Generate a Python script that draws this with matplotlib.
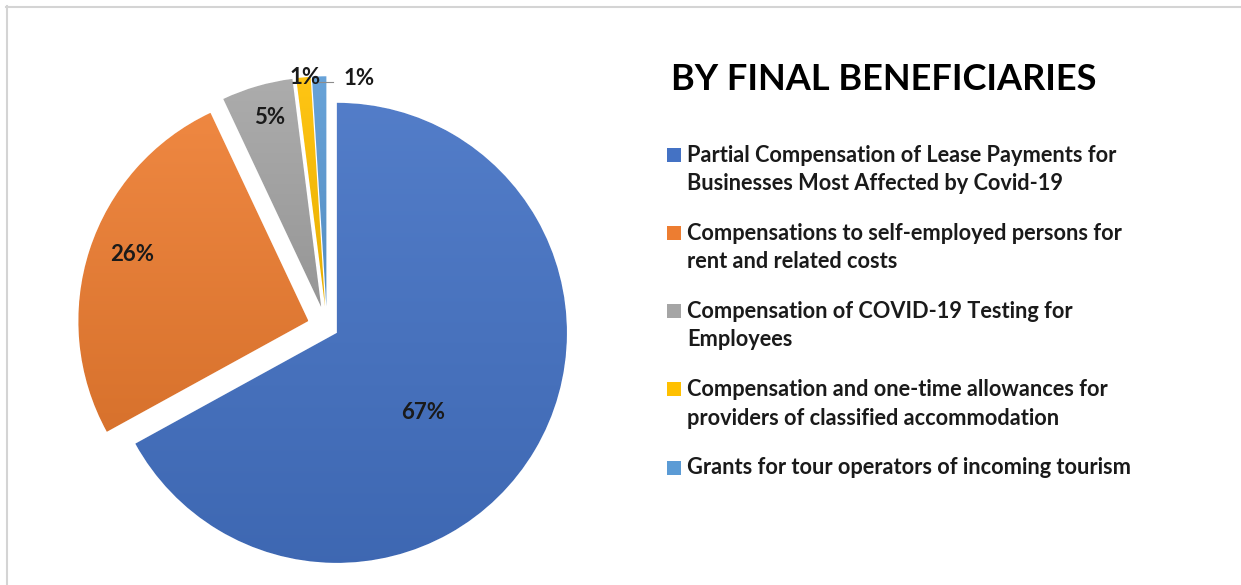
import numpy as np
import matplotlib
matplotlib.use('Agg')
import matplotlib.pyplot as plt
from matplotlib.colors import to_rgb
from matplotlib.lines import Line2D
from matplotlib.patches import Rectangle

plt.rcParams['font.family'] = ['Lato', 'DejaVu Sans']

title = 'BY FINAL BENEFICIARIES'
categories = [
    'Partial Compensation of Lease Payments for\nBusinesses Most Affected by Covid-19',
    'Compensations to self-employed persons for\nrent and related costs',
    'Compensation of COVID-19 Testing for\nEmployees',
    'Compensation and one-time allowances for\nproviders of classified accommodation',
    'Grants for tour operators of incoming tourism',
]
shares = [67, 26, 5, 1, 1]
colors = ['#4472C4', '#ED7D31', '#A5A5A5', '#FFC000', '#5B9BD5']
explode = [0.05, 0.085, 0.09, 0.09, 0.09]

# where each percentage sits, relative to its own wedge
pct_dist = [0.51, 0.82, 0.855, 1.0, 1.0]
pct_turn = [-12, -2.5, -1, -0.3, -10]

W, H = 1241, 585
fig = plt.figure(figsize=(W / 100, H / 100), dpi=100)
fig.patch.set_facecolor('white')

# pie axes: centre at (327, 327) px, radius 1 -> 230 px
L = 1.45
half = 230 * L
cx, cy = 327, 327
ax = fig.add_axes([(cx - half) / W, (H - cy - half) / H, 2 * half / W, 2 * half / H])
ax.axis('off')

wedges, _ = ax.pie(shares, colors=colors, explode=explode, startangle=90,
                   counterclock=False, radius=1,
                   wedgeprops=dict(edgecolor='white', linewidth=0.8))


def shade(c, f):
    rgb = np.array(to_rgb(c))
    if f > 0:
        return rgb + (1 - rgb) * f
    return rgb * (1 + f)


# soft top-to-bottom gradient on every slice
for w, c in zip(wedges, colors):
    v = w.get_path().vertices
    x0, x1 = v[:, 0].min(), v[:, 0].max()
    y0, y1 = v[:, 1].min(), v[:, 1].max()
    t = np.linspace(0, 1, 256)[:, None]
    grad = (1 - t) * shade(c, -0.09) + t * shade(c, 0.08)
    img = ax.imshow(grad[:, None, :], extent=(x0, x1, y0, y1), origin='lower',
                    aspect='auto', zorder=2)
    img.set_clip_path(w)

for i, (w, s) in enumerate(zip(wedges, shares)):
    mid = np.deg2rad((w.theta1 + w.theta2) / 2 + pct_turn[i])
    px = w.center[0] + pct_dist[i] * np.cos(mid)
    py = w.center[1] + pct_dist[i] * np.sin(mid)
    ax.text(px, py, f'{s}%', ha='center', va='center', fontsize=16,
            fontweight='bold', color='#1a1a1a', zorder=4)

# leader line for the last small slice
w = wedges[-1]
top = np.deg2rad((w.theta1 + w.theta2) / 2)
lx = w.center[0] + np.cos(top) * 0.99
ly = w.center[1] + np.sin(top) * 0.975
ax.plot([lx, lx + 0.06], [ly, ly], color='#8c8c8c', lw=0.8, zorder=4)

ax.set_xlim(-L, L)
ax.set_ylim(-L, L)
ax.set_aspect('equal')

# title and legend
fig.text(671 / W, 1 - 90 / H, title, fontsize=26, fontweight='bold',
         color='black', va='baseline', ha='left')

base, step, pitch = 161.7, 78.2, 28.3
for i, (lab, c) in enumerate(zip(categories, colors)):
    y = base + step * i
    fig.add_artist(Rectangle((667 / W, 1 - y / H), 14 / W, 14 / H,
                             transform=fig.transFigure, color=c, lw=0))
    for j, line in enumerate(lab.split('\n')):
        fig.text(687 / W, 1 - (y + pitch * j) / H, line, fontsize=15.7,
                 fontweight='bold', color='#1a1a1a', va='baseline', ha='left')

# thin frame on the top and left edges
fig.add_artist(Line2D([6 / W, 1], [1 - 6.5 / H] * 2, transform=fig.transFigure,
                      color='#d4d4d4', lw=1.5))
fig.add_artist(Line2D([6.5 / W] * 2, [0, 1 - 6 / H], transform=fig.transFigure,
                      color='#d4d4d4', lw=1.5))

fig.savefig('out.png', dpi=100)
